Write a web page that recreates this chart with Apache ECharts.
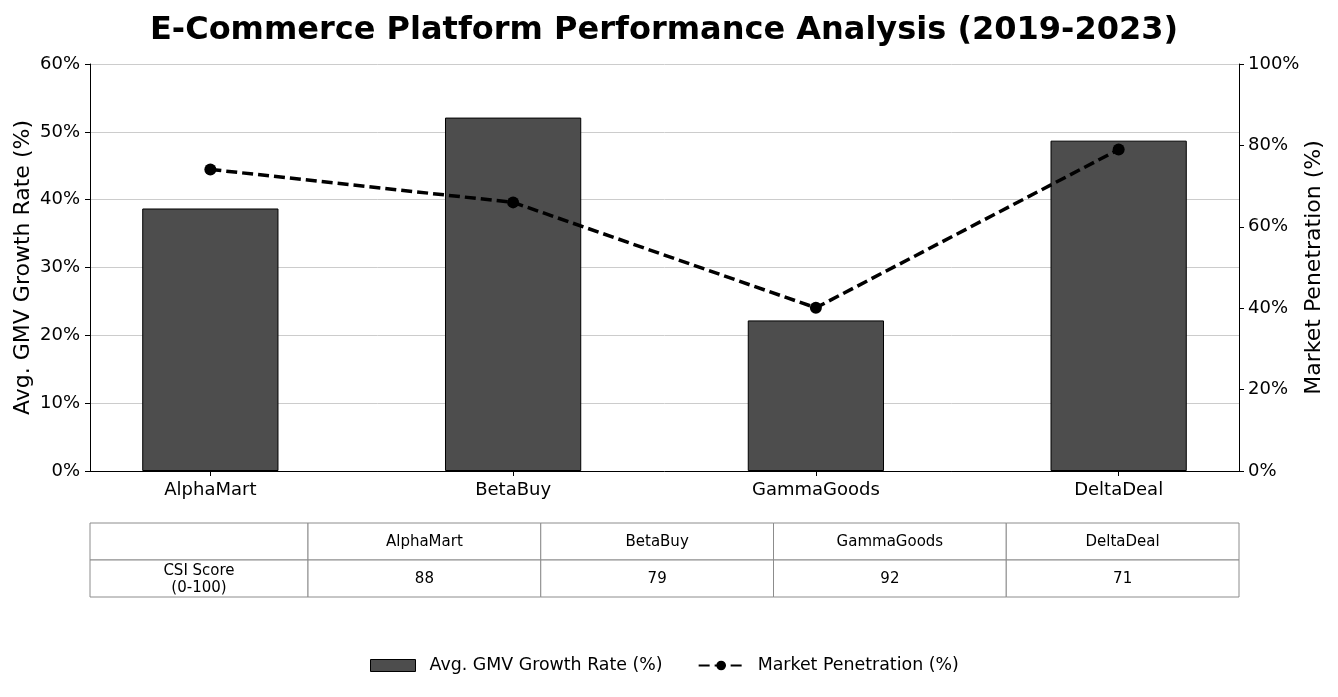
<!DOCTYPE html>
<html>
<head>
<meta charset="utf-8">
<title>E-Commerce Platform Performance Analysis</title>
<script src="https://cdn.jsdelivr.net/npm/echarts@6/dist/echarts.min.js"></script>
<style>
  html, body { margin: 0; padding: 0; background: #fff; }
  #chart { width: 1338px; height: 697px; }
</style>
</head>
<body>
<div id="chart"></div>
<script>
// data
var platforms = ['AlphaMart', 'BetaBuy', 'GammaGoods', 'DeltaDeal'];
var gmvGrowth = [38.7, 52.1, 22.2, 48.7];
var penetration = [74.1, 66.0, 40.1, 79.0];
var csiScores = [88, 79, 92, 71];
var csiLabel = 'CSI Score\n(0-100)';

var leftTicks = { min: 0, max: 60, interval: 10 };
var rightTicks = { min: 0, max: 100, interval: 20 };

var font = 'DejaVu Sans';
var W = 1338;
var gridLeft = 90, gridRight = 99, gridTop = 64, gridBottom = 226;

// bar width 0.45 of a category, matplotlib margins of 5%
var barFrac = 0.45;
var xPad = (platforms.length - 1 + barFrac) * 0.05 + barFrac / 2;
var xMin = -xPad, xMax = platforms.length - 1 + xPad;
var plotW = W - gridLeft - gridRight;
var barPx = plotW / (xMax - xMin) * barFrac;
var catTicks = platforms.map(function (p, i) { return i; });

var chartInstance = echarts.init(document.getElementById('chart'));

// table under the plot
function buildTable() {
	var els = [];
	var x0 = gridLeft, x1 = W - gridRight;
	var y0 = 523, rowH = 37;
	var firstW = 218;
	var colW = (x1 - x0 - firstW) / platforms.length;
	var border = '#8c8c8c';
	var cols = [x0, x0 + firstW];
	for (var i = 1; i <= platforms.length; i++) cols.push(x0 + firstW + colW * i);

	var rows = [[''].concat(platforms), [csiLabel].concat(csiScores.map(String))];
	for (var r = 0; r < rows.length; r++) {
		for (var c = 0; c < rows[r].length; c++) {
			els.push({
				type: 'rect',
				shape: { x: cols[c], y: y0 + r * rowH, width: cols[c + 1] - cols[c], height: rowH },
				style: { fill: '#fff', stroke: border, lineWidth: 1 },
				z: 1
			});
			els.push({
				type: 'text',
				x: (cols[c] + cols[c + 1]) / 2,
				y: y0 + r * rowH + rowH / 2 + 1,
				style: {
					text: rows[r][c],
					fill: '#000',
					font: '15px "' + font + '"',
					align: 'center',
					verticalAlign: 'middle',
					lineHeight: 17
				},
				z: 2
			});
		}
	}
	return els;
}

var option = {
	animation: false,
	textStyle: { fontFamily: font },
	title: {
		text: 'E-Commerce Platform Performance Analysis (2019-2023)',
		left: 145,
		top: 10,
		textStyle: { fontFamily: font, fontWeight: 'bold', fontSize: 32, color: '#000' }
	},
	grid: { left: gridLeft, right: gridRight, top: gridTop, bottom: gridBottom, containLabel: false },
	legend: {
		top: 652,
		left: 365,
		itemWidth: 45,
		itemHeight: 12,
		itemGap: 35,
		textStyle: { fontFamily: font, fontSize: 17.4, color: '#000', padding: [0, 0, 0, 9] },
		data: [
			{ name: 'Avg. GMV Growth Rate (%)', icon: 'rect', itemStyle: { color: '#4d4d4d', borderColor: '#000', borderWidth: 1 } },
			{ name: 'Market Penetration (%)' }
		]
	},
	xAxis: {
		type: 'value',
		min: xMin,
		max: xMax,
		splitLine: { show: false },
		axisLine: { show: true, onZero: false, lineStyle: { color: '#000', width: 1 } },
		axisTick: { show: true, customValues: catTicks, length: 5, lineStyle: { color: '#000' } },
		axisLabel: {
			customValues: catTicks,
			margin: 10,
			fontSize: 18,
			color: '#000',
			fontFamily: font,
			formatter: function (v) { return platforms[Math.round(v)] || ''; }
		}
	},
	yAxis: [
		{
			type: 'value',
			min: leftTicks.min,
			max: leftTicks.max,
			interval: leftTicks.interval,
			name: 'Avg. GMV Growth Rate (%)',
			nameLocation: 'middle',
			nameGap: 56,
			nameMoveOverlap: false,
			nameTextStyle: { fontFamily: font, fontSize: 22, color: '#000' },
			axisLine: { show: true, onZero: false, lineStyle: { color: '#000', width: 1 } },
			axisTick: { show: true, length: 5, lineStyle: { color: '#000' } },
			axisLabel: { formatter: '{value}%', fontSize: 18, color: '#000', margin: 10, fontFamily: font },
			splitLine: { show: true, lineStyle: { color: '#cccccc', width: 1 } }
		},
		{
			type: 'value',
			min: rightTicks.min,
			max: rightTicks.max,
			interval: rightTicks.interval,
			name: 'Market Penetration (%)',
			nameLocation: 'middle',
			nameGap: 64,
			nameMoveOverlap: false,
			nameTextStyle: { fontFamily: font, fontSize: 22, color: '#000' },
			axisLine: { show: true, onZero: false, lineStyle: { color: '#000', width: 1 } },
			axisTick: { show: true, length: 5, lineStyle: { color: '#000' } },
			axisLabel: { formatter: '{value}%', fontSize: 18, color: '#000', margin: 9, fontFamily: font },
			splitLine: { show: false }
		}
	],
	series: [
		{
			name: 'Avg. GMV Growth Rate (%)',
			type: 'bar',
			yAxisIndex: 0,
			barWidth: barPx,
			itemStyle: { color: '#4d4d4d', borderColor: '#000', borderWidth: 1 },
			data: gmvGrowth.map(function (v, i) { return [i, v]; })
		},
		{
			name: 'Market Penetration (%)',
			type: 'line',
			yAxisIndex: 1,
			symbol: 'circle',
			symbolSize: 12,
			lineStyle: { color: '#000', width: 3.5, type: [11, 5] },
			itemStyle: { color: '#000' },
			data: penetration.map(function (v, i) { return [i, v]; }),
			z: 5
		}
	],
	graphic: buildTable()
};

chartInstance.setOption(option);
</script>
</body>
</html>
